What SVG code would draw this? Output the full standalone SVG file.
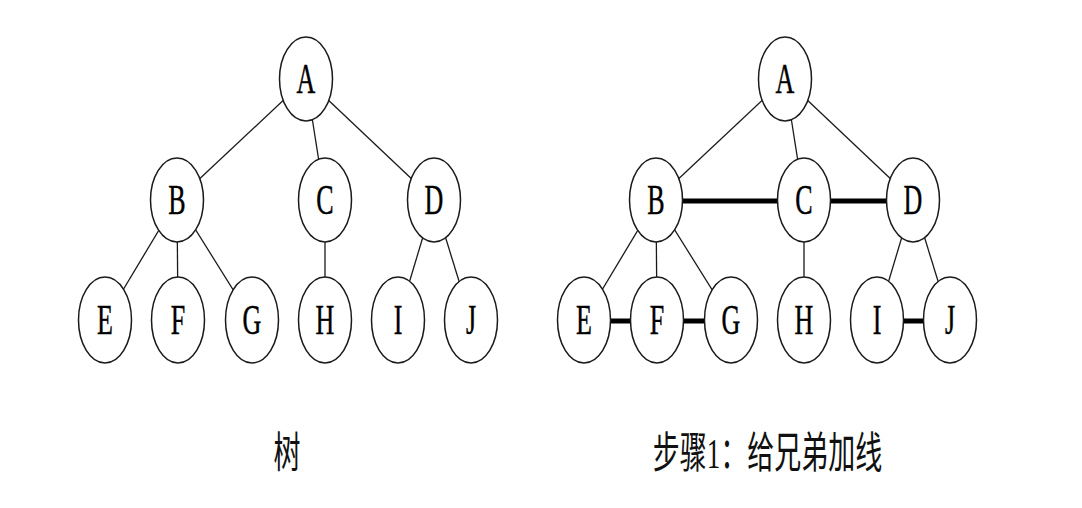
<svg xmlns="http://www.w3.org/2000/svg" width="1082" height="508" viewBox="0 0 1082 508">
<style>
.e{fill:#fff;stroke:#1a1a1a;stroke-width:1.5}
.l{stroke:#1a1a1a;stroke-width:1.3;fill:none}
.t{stroke:#000;stroke-width:5;fill:none}
.n{font-family:"Liberation Serif","Times New Roman",serif;font-size:26px;text-anchor:middle;fill:#000;stroke:#000;stroke-width:0.3}
.c{font-family:"Liberation Serif","Noto Sans CJK SC",sans-serif;font-size:27px;text-anchor:middle;fill:#111}
</style>
<rect width="1082" height="508" fill="#fff"/>
<g id="connectors">
<g id="left-edges">
<line class="l" x1="306" y1="79" x2="177" y2="200"/>
<line class="l" x1="306" y1="79" x2="325" y2="200"/>
<line class="l" x1="306" y1="79" x2="434" y2="200"/>
<line class="l" x1="177" y1="200" x2="105" y2="320"/>
<line class="l" x1="177" y1="200" x2="178" y2="320"/>
<line class="l" x1="177" y1="200" x2="252" y2="320"/>
<line class="l" x1="325" y1="200" x2="325" y2="320"/>
<line class="l" x1="434" y1="200" x2="398" y2="320"/>
<line class="l" x1="434" y1="200" x2="471" y2="320"/>
</g>
<g id="right-edges">
<line class="l" x1="785" y1="79" x2="656" y2="200"/>
<line class="l" x1="785" y1="79" x2="804" y2="200"/>
<line class="l" x1="785" y1="79" x2="913" y2="200"/>
<line class="l" x1="656" y1="200" x2="584" y2="320"/>
<line class="l" x1="656" y1="200" x2="657" y2="320"/>
<line class="l" x1="656" y1="200" x2="731" y2="320"/>
<line class="l" x1="804" y1="200" x2="804" y2="320"/>
<line class="l" x1="913" y1="200" x2="877" y2="320"/>
<line class="l" x1="913" y1="200" x2="950" y2="320"/>
<line class="t" x1="656" y1="201" x2="804" y2="201"/>
<line class="t" x1="804" y1="201" x2="913" y2="201"/>
<line class="t" x1="584" y1="321" x2="657" y2="321"/>
<line class="t" x1="657" y1="321" x2="731" y2="321"/>
<line class="t" x1="877" y1="321" x2="950" y2="321"/>
</g>
</g>
<g id="left-A"><ellipse class="e" cx="306" cy="79" rx="26.5" ry="42"/><text class="n" transform="matrix(1 0 0 1.65 306 93)">A</text></g>
<g id="left-B"><ellipse class="e" cx="177" cy="200" rx="26.5" ry="42"/><text class="n" transform="matrix(1 0 0 1.65 177 214)">B</text></g>
<g id="left-C"><ellipse class="e" cx="325" cy="200" rx="26.5" ry="42"/><text class="n" transform="matrix(1 0 0 1.65 325 214)">C</text></g>
<g id="left-D"><ellipse class="e" cx="434" cy="200" rx="26.5" ry="42"/><text class="n" transform="matrix(1 0 0 1.65 434 214)">D</text></g>
<g id="left-E"><ellipse class="e" cx="105" cy="320" rx="26.5" ry="43"/><text class="n" transform="matrix(1 0 0 1.65 105 334)">E</text></g>
<g id="left-F"><ellipse class="e" cx="178" cy="320" rx="26.5" ry="43"/><text class="n" transform="matrix(1 0 0 1.65 178 334)">F</text></g>
<g id="left-G"><ellipse class="e" cx="252" cy="320" rx="26.5" ry="43"/><text class="n" transform="matrix(1 0 0 1.65 252 334)">G</text></g>
<g id="left-H"><ellipse class="e" cx="325" cy="320" rx="26.5" ry="43"/><text class="n" transform="matrix(1 0 0 1.65 325 334)">H</text></g>
<g id="left-I"><ellipse class="e" cx="398" cy="320" rx="26.5" ry="43"/><text class="n" transform="matrix(1 0 0 1.65 398 334)">I</text></g>
<g id="left-J"><ellipse class="e" cx="471" cy="320" rx="26.5" ry="43"/><text class="n" transform="matrix(1 0 0 1.65 471 334)">J</text></g>
<g id="right-A"><ellipse class="e" cx="785" cy="79" rx="26.5" ry="42"/><text class="n" transform="matrix(1 0 0 1.65 785 93)">A</text></g>
<g id="right-B"><ellipse class="e" cx="656" cy="200" rx="26.5" ry="42"/><text class="n" transform="matrix(1 0 0 1.65 656 214)">B</text></g>
<g id="right-C"><ellipse class="e" cx="804" cy="200" rx="26.5" ry="42"/><text class="n" transform="matrix(1 0 0 1.65 804 214)">C</text></g>
<g id="right-D"><ellipse class="e" cx="913" cy="200" rx="26.5" ry="42"/><text class="n" transform="matrix(1 0 0 1.65 913 214)">D</text></g>
<g id="right-E"><ellipse class="e" cx="584" cy="320" rx="26.5" ry="43"/><text class="n" transform="matrix(1 0 0 1.65 584 334)">E</text></g>
<g id="right-F"><ellipse class="e" cx="657" cy="320" rx="26.5" ry="43"/><text class="n" transform="matrix(1 0 0 1.65 657 334)">F</text></g>
<g id="right-G"><ellipse class="e" cx="731" cy="320" rx="26.5" ry="43"/><text class="n" transform="matrix(1 0 0 1.65 731 334)">G</text></g>
<g id="right-H"><ellipse class="e" cx="804" cy="320" rx="26.5" ry="43"/><text class="n" transform="matrix(1 0 0 1.65 804 334)">H</text></g>
<g id="right-I"><ellipse class="e" cx="877" cy="320" rx="26.5" ry="43"/><text class="n" transform="matrix(1 0 0 1.65 877 334)">I</text></g>
<g id="right-J"><ellipse class="e" cx="950" cy="320" rx="26.5" ry="43"/><text class="n" transform="matrix(1 0 0 1.65 950 334)">J</text></g>
<g id="captions">
<text class="c" transform="matrix(1 0 0 1.6 287 468)">树</text>
<text class="c" transform="matrix(1 0 0 1.6 767.5 468)">步骤1：给兄弟加线</text>
</g>
</svg>
